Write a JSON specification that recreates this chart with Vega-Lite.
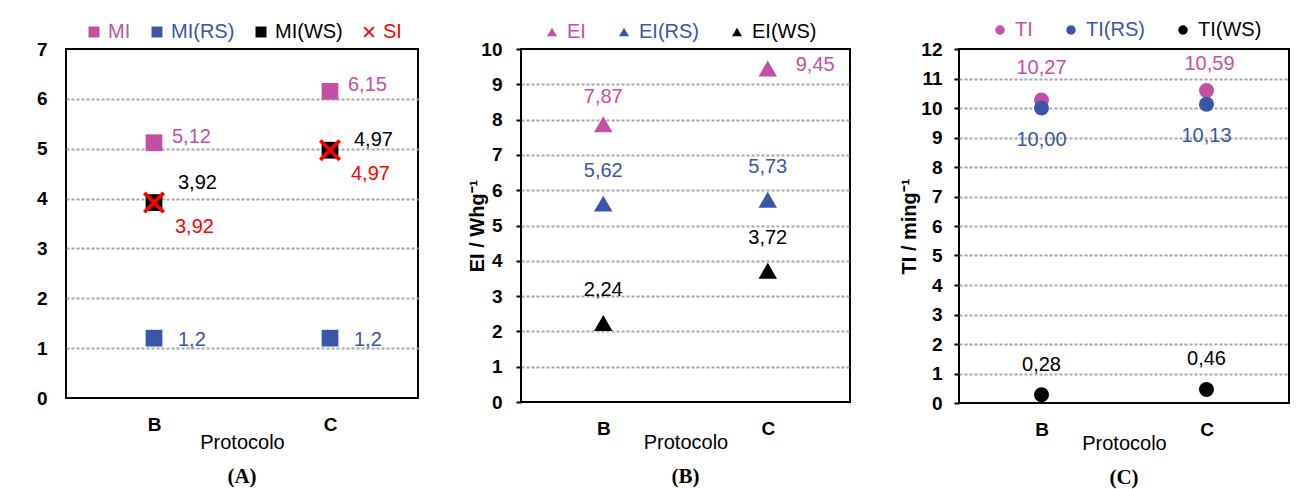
{
  "$schema": "https://vega.github.io/schema/vega-lite/v6.json",
  "padding": {"left": 35, "top": 19, "right": 5, "bottom": 0},
  "background": "white",
  "spacing": 47,
  "resolve": {"scale": {"color": "independent", "shape": "independent", "size": "independent", "y": "independent", "x": "independent"}, "legend": {"color": "independent", "shape": "independent", "size": "independent"}},
  "config": {
    "font": "Liberation Sans",
    "view": {"stroke": "#000000", "strokeWidth": 2},
    "axis": {"labelColor": "#000000", "titleColor": "#000000", "labelFont": "Liberation Sans", "titleFont": "Liberation Sans"},
    "axisX": {"labelFontSize": 19, "labelFontWeight": "bold", "labelAngle": 0, "ticks": false, "domain": false, "grid": false, "labelPadding": 17, "titleFontSize": 20, "titleFontWeight": "normal", "titleBaseline": "middle"},
    "axisY": {"labelFontSize": 19, "labelFontWeight": "bold", "domain": false, "grid": true, "gridColor": "#A6A6A6", "gridDash": [3, 2], "gridWidth": 2, "titleFontSize": 20, "titleFontWeight": "bold"},
    "title": {"font": "Liberation Serif", "fontSize": 21, "fontWeight": "bold", "color": "#000000"}
  },
  "datasets": {
    "a": [
      {"Protocolo": "B", "serie": "MI", "valor": 5.12, "rotulo": "5,12"},
      {"Protocolo": "C", "serie": "MI", "valor": 6.15, "rotulo": "6,15"},
      {"Protocolo": "B", "serie": "MI(RS)", "valor": 1.2, "rotulo": "1,2"},
      {"Protocolo": "C", "serie": "MI(RS)", "valor": 1.2, "rotulo": "1,2"},
      {"Protocolo": "B", "serie": "MI(WS)", "valor": 3.92, "rotulo": "3,92"},
      {"Protocolo": "C", "serie": "MI(WS)", "valor": 4.97, "rotulo": "4,97"},
      {"Protocolo": "B", "serie": "SI", "valor": 3.92, "rotulo": "3,92"},
      {"Protocolo": "C", "serie": "SI", "valor": 4.97, "rotulo": "4,97"}
    ],
    "b": [
      {"Protocolo": "B", "serie": "EI", "valor": 7.87, "rotulo": "7,87"},
      {"Protocolo": "C", "serie": "EI", "valor": 9.45, "rotulo": "9,45"},
      {"Protocolo": "B", "serie": "EI(RS)", "valor": 5.62, "rotulo": "5,62"},
      {"Protocolo": "C", "serie": "EI(RS)", "valor": 5.73, "rotulo": "5,73"},
      {"Protocolo": "B", "serie": "EI(WS)", "valor": 2.24, "rotulo": "2,24"},
      {"Protocolo": "C", "serie": "EI(WS)", "valor": 3.72, "rotulo": "3,72"}
    ],
    "c": [
      {"Protocolo": "B", "serie": "TI", "valor": 10.27, "rotulo": "10,27"},
      {"Protocolo": "C", "serie": "TI", "valor": 10.59, "rotulo": "10,59"},
      {"Protocolo": "B", "serie": "TI(RS)", "valor": 10.0, "rotulo": "10,00"},
      {"Protocolo": "C", "serie": "TI(RS)", "valor": 10.13, "rotulo": "10,13"},
      {"Protocolo": "B", "serie": "TI(WS)", "valor": 0.28, "rotulo": "0,28"},
      {"Protocolo": "C", "serie": "TI(WS)", "valor": 0.46, "rotulo": "0,46"}
    ]
  },
  "hconcat": [
    {
      "width": 352,
      "height": 349,
      "data": {"name": "a"},
      "title": {"text": "(A)", "orient": "bottom", "frame": "group", "offset": 14},
      "encoding": {
        "x": {"field": "Protocolo", "type": "nominal", "scale": {"type": "point", "padding": 0.5}, "axis": {"title": "Protocolo", "titleY": 44}},
        "y": {"field": "valor", "type": "quantitative", "scale": {"domain": [0, 7], "nice": false}, "axis": {"title": null, "values": [0, 1, 2, 3, 4, 5, 6, 7], "ticks": false, "labelPadding": 19, "gridOpacity": {"condition": {"test": "datum.value === 0 || datum.value === 7", "value": 0}, "value": 1}}}
      },
      "layer": [
        {
          "transform": [{"filter": "datum.serie !== 'SI'"}],
          "mark": {"type": "point", "filled": true, "opacity": 1, "size": 280},
          "encoding": {
            "color": {"field": "serie", "type": "nominal", "scale": {"domain": ["MI", "MI(RS)", "MI(WS)", "SI"], "range": ["#C44FA6", "#3B56A6", "#000000", "#FF0000"]},
              "legend": {"orient": "none", "legendX": 18, "legendY": -27, "direction": "horizontal", "title": null, "labelFontSize": 20, "labelFont": "Liberation Sans", "symbolSize": 120, "symbolOpacity": 1, "symbolStrokeWidth": 0, "columnPadding": 16, "labelOffset": 4, "padding": 0,
                "encode": {"labels": {"update": {"fill": {"signal": "datum.value === 'MI' ? '#C44FA6' : datum.value === 'MI(RS)' ? '#3B56A6' : datum.value === 'SI' ? '#FF0000' : '#000000'"}}}}}},
            "shape": {"field": "serie", "type": "nominal", "scale": {"domain": ["MI", "MI(RS)", "MI(WS)", "SI"], "range": ["square", "square", "square", "M-1,-0.76L-0.76,-1L0,-0.24L0.76,-1L1,-0.76L0.24,0L1,0.76L0.76,1L0,0.24L-0.76,1L-1,0.76L-0.24,0Z"]}}
          }
        },
        {
          "transform": [{"filter": "datum.serie === 'SI'"}],
          "mark": {"type": "point", "filled": true, "opacity": 1, "size": 484},
          "encoding": {
            "color": {"field": "serie", "type": "nominal", "scale": {"domain": ["MI", "MI(RS)", "MI(WS)", "SI"], "range": ["#C44FA6", "#3B56A6", "#000000", "#FF0000"]}},
            "shape": {"field": "serie", "type": "nominal", "scale": {"domain": ["MI", "MI(RS)", "MI(WS)", "SI"], "range": ["square", "square", "square", "M-1,-0.76L-0.76,-1L0,-0.24L0.76,-1L1,-0.76L0.24,0L1,0.76L0.76,1L0,0.24L-0.76,1L-1,0.76L-0.24,0Z"]}}
          }
        },
        {"transform": [{"filter": "datum.serie === 'MI'"}], "mark": {"type": "text", "align": "left", "baseline": "middle", "dx": 18, "dy": -6, "fontSize": 20, "color": "#C44FA6"}, "encoding": {"text": {"field": "rotulo"}}},
        {"transform": [{"filter": "datum.serie === 'MI(RS)'"}], "mark": {"type": "text", "align": "left", "baseline": "middle", "dx": 24, "dy": 2, "fontSize": 20, "color": "#3B56A6"}, "encoding": {"text": {"field": "rotulo"}}},
        {"transform": [{"filter": "datum.serie === 'MI(WS)' && datum.Protocolo === 'B'"}], "mark": {"type": "text", "align": "left", "baseline": "middle", "dx": 24, "dy": -20, "fontSize": 20, "color": "#000000"}, "encoding": {"text": {"field": "rotulo"}}},
        {"transform": [{"filter": "datum.serie === 'MI(WS)' && datum.Protocolo === 'C'"}], "mark": {"type": "text", "align": "left", "baseline": "middle", "dx": 24, "dy": -10, "fontSize": 20, "color": "#000000"}, "encoding": {"text": {"field": "rotulo"}}},
        {"transform": [{"filter": "datum.serie === 'SI'"}], "mark": {"type": "text", "align": "left", "baseline": "middle", "dx": 21, "dy": 24, "fontSize": 20, "color": "#FF0000"}, "encoding": {"text": {"field": "rotulo"}}}
      ]
    },
    {
      "width": 329,
      "height": 353,
      "data": {"name": "b"},
      "title": {"text": "(B)", "orient": "bottom", "frame": "group", "offset": 14},
      "encoding": {
        "x": {"field": "Protocolo", "type": "nominal", "scale": {"type": "point", "padding": 0.5}, "axis": {"title": "Protocolo", "titleY": 40}},
        "y": {"field": "valor", "type": "quantitative", "scale": {"domain": [0, 10], "nice": false}, "axis": {"title": "EI / Whg⁻¹", "titleX": -34, "values": [0, 1, 2, 3, 4, 5, 6, 7, 8, 9, 10], "ticks": true, "tickSize": 5, "tickWidth": 2, "tickColor": "#000000", "labelPadding": 14, "gridOpacity": {"condition": {"test": "datum.value === 0 || datum.value === 10", "value": 0}, "value": 1}}}
      },
      "layer": [
        {
          "mark": {"type": "point", "filled": true, "opacity": 1, "shape": "triangle-up", "size": 340},
          "encoding": {
            "color": {"field": "serie", "type": "nominal", "scale": {"domain": ["EI", "EI(RS)", "EI(WS)"], "range": ["#C44FA6", "#3B56A6", "#000000"]},
              "legend": {"orient": "none", "legendX": 21, "legendY": -27, "direction": "horizontal", "title": null, "labelFontSize": 20, "labelFont": "Liberation Sans", "symbolType": "triangle-up", "symbolSize": 100, "symbolOpacity": 1, "symbolStrokeWidth": 0, "columnPadding": 28, "labelOffset": 5, "padding": 0,
                "encode": {"labels": {"update": {"fill": {"signal": "datum.value === 'EI' ? '#C44FA6' : datum.value === 'EI(RS)' ? '#3B56A6' : '#000000'"}}}}}}
          }
        },
        {"transform": [{"filter": "datum.serie === 'EI' && datum.Protocolo === 'B'"}], "mark": {"type": "text", "align": "center", "baseline": "middle", "dy": -27, "fontSize": 20, "color": "#C44FA6"}, "encoding": {"text": {"field": "rotulo"}}},
        {"transform": [{"filter": "datum.serie === 'EI' && datum.Protocolo === 'C'"}], "mark": {"type": "text", "align": "left", "baseline": "middle", "dx": 28, "dy": -3, "fontSize": 20, "color": "#C44FA6"}, "encoding": {"text": {"field": "rotulo"}}},
        {"transform": [{"filter": "datum.serie === 'EI(RS)'"}], "mark": {"type": "text", "align": "center", "baseline": "middle", "dy": -33, "fontSize": 20, "color": "#3B56A6"}, "encoding": {"text": {"field": "rotulo"}}},
        {"transform": [{"filter": "datum.serie === 'EI(WS)'"}], "mark": {"type": "text", "align": "center", "baseline": "middle", "dy": -33, "fontSize": 20, "color": "#000000"}, "encoding": {"text": {"field": "rotulo"}}}
      ]
    },
    {
      "width": 330,
      "height": 354,
      "data": {"name": "c"},
      "title": {"text": "(C)", "orient": "bottom", "frame": "group", "offset": 14},
      "encoding": {
        "x": {"field": "Protocolo", "type": "nominal", "scale": {"type": "point", "padding": 0.5}, "axis": {"title": "Protocolo", "titleY": 40}},
        "y": {"field": "valor", "type": "quantitative", "scale": {"domain": [0, 12], "nice": false}, "axis": {"title": "TI / ming⁻¹", "titleX": -40, "values": [0, 1, 2, 3, 4, 5, 6, 7, 8, 9, 10, 11, 12], "ticks": true, "tickSize": 5, "tickWidth": 2, "tickColor": "#000000", "labelPadding": 12, "gridOpacity": {"condition": {"test": "datum.value === 0 || datum.value === 12", "value": 0}, "value": 1}}}
      },
      "layer": [
        {
          "mark": {"type": "point", "filled": true, "opacity": 1, "shape": "circle", "size": 225},
          "encoding": {
            "color": {"field": "serie", "type": "nominal", "scale": {"domain": ["TI", "TI(RS)", "TI(WS)"], "range": ["#C44FA6", "#3B56A6", "#000000"]},
              "legend": {"orient": "none", "legendX": 31, "legendY": -29, "direction": "horizontal", "title": null, "labelFontSize": 20, "labelFont": "Liberation Sans", "symbolType": "circle", "symbolSize": 90, "symbolOpacity": 1, "symbolStrokeWidth": 0, "columnPadding": 28, "labelOffset": 5, "padding": 0,
                "encode": {"labels": {"update": {"fill": {"signal": "datum.value === 'TI' ? '#C44FA6' : datum.value === 'TI(RS)' ? '#3B56A6' : '#000000'"}}}}}}
          }
        },
        {"transform": [{"filter": "datum.serie === 'TI' && datum.Protocolo === 'B'"}], "mark": {"type": "text", "align": "center", "baseline": "middle", "dy": -32, "fontSize": 20, "color": "#C44FA6"}, "encoding": {"text": {"field": "rotulo"}}},
        {"transform": [{"filter": "datum.serie === 'TI' && datum.Protocolo === 'C'"}], "mark": {"type": "text", "align": "center", "baseline": "middle", "dx": 3, "dy": -27, "fontSize": 20, "color": "#C44FA6"}, "encoding": {"text": {"field": "rotulo"}}},
        {"transform": [{"filter": "datum.serie === 'TI(RS)'"}], "mark": {"type": "text", "align": "center", "baseline": "middle", "dy": 32, "fontSize": 20, "color": "#3B56A6"}, "encoding": {"text": {"field": "rotulo"}}},
        {"transform": [{"filter": "datum.serie === 'TI(WS)'"}], "mark": {"type": "text", "align": "center", "baseline": "middle", "dy": -30, "fontSize": 20, "color": "#000000"}, "encoding": {"text": {"field": "rotulo"}}}
      ]
    }
  ]
}
